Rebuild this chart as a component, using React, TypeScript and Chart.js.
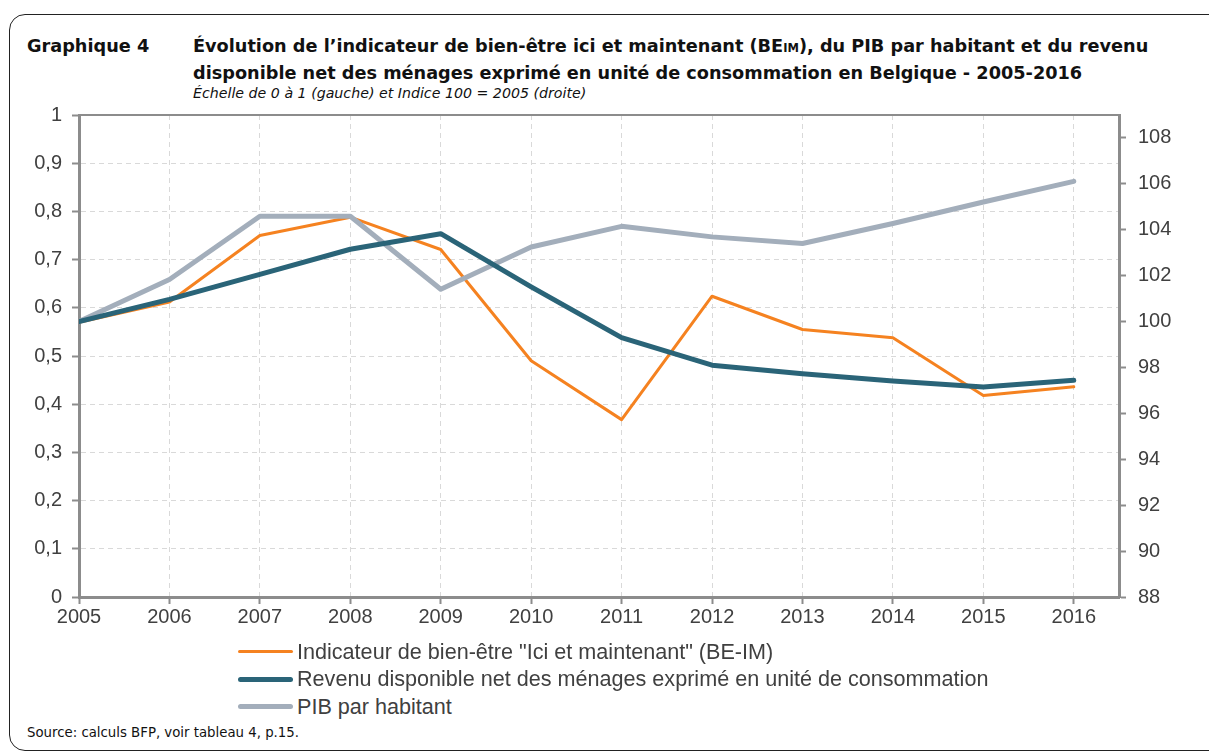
import React, { useEffect, useRef } from "react";
import { Chart, registerables } from "chart.js";

Chart.register(...registerables);

// ---- Data ----
const years = [2005, 2006, 2007, 2008, 2009, 2010, 2011, 2012, 2013, 2014, 2015, 2016];
const beImValues = [0.57, 0.612, 0.75, 0.788, 0.721, 0.49, 0.368, 0.624, 0.555, 0.538, 0.418, 0.436];
const revenuValues = [100, 100.97, 102.06, 103.15, 103.83, 101.51, 99.3, 98.1, 97.73, 97.41, 97.15, 97.44];
const pibValues = [100, 101.83, 104.59, 104.59, 101.41, 103.25, 104.15, 103.69, 103.4, 104.27, 105.21, 106.11];

const seriesLabels = [
  'Indicateur de bien-être "Ici et maintenant" (BE-IM)',
  "Revenu disponible net des ménages exprimé en unité de consommation",
  "PIB par habitant",
];
const seriesColors = ["#F58220", "#2A6478", "#A3AEBB"];
const seriesWidths = [3, 5, 5];

const leftTickValues = [0, 0.1, 0.2, 0.3, 0.4, 0.5, 0.6, 0.7, 0.8, 0.9, 1];
const rightTickValues = [88, 90, 92, 94, 96, 98, 100, 102, 104, 106, 108];
const leftAxisRange = [0, 1];
const rightAxisRange = [88, 109];
const xAxisRange = [2005, 2016.5];

const AXIS_COLOR = "#8C8C8C";
const GRID_COLOR = "#D9D9D9";
const TICK_TEXT = "#404040";

const topBorderPlugin = {
  id: "topBorder",
  afterDraw(chart: any) {
    const { ctx, chartArea } = chart;
    ctx.save();
    ctx.strokeStyle = AXIS_COLOR;
    ctx.lineWidth = 2;
    ctx.beginPath();
    ctx.moveTo(chartArea.left, chartArea.top);
    ctx.lineTo(chartArea.right, chartArea.top);
    ctx.stroke();
    ctx.restore();
  },
};

export default function App() {
  const ref = useRef<HTMLCanvasElement>(null);

  useEffect(() => {
    const prevMargin = document.body.style.margin;
    document.body.style.margin = "0";
    const toPts = (vals: number[]) => years.map((y, i) => ({ x: y, y: vals[i] }));
    const tickFont = { family: "'Liberation Sans', Arial, sans-serif", size: 20 };

    const chart = new Chart(ref.current as HTMLCanvasElement, {
      type: "line",
      data: {
        datasets: [
          {
            label: seriesLabels[0],
            data: toPts(beImValues),
            yAxisID: "y",
            borderColor: seriesColors[0],
            borderWidth: seriesWidths[0],
            pointRadius: 0,
            order: 3,
          },
          {
            label: seriesLabels[1],
            data: toPts(revenuValues),
            yAxisID: "y1",
            borderColor: seriesColors[1],
            borderWidth: seriesWidths[1],
            pointRadius: 0,
            order: 1,
          },
          {
            label: seriesLabels[2],
            data: toPts(pibValues),
            yAxisID: "y1",
            borderColor: seriesColors[2],
            borderWidth: seriesWidths[2],
            pointRadius: 0,
            order: 2,
          },
        ],
      },
      options: {
        responsive: false,
        animation: false,
        devicePixelRatio: 1,
        layout: { padding: { top: 5, left: 0, right: 0, bottom: 0 } },
        elements: { line: { borderCapStyle: "round", borderJoinStyle: "round", tension: 0 } },
        plugins: { legend: { display: false }, tooltip: { enabled: false }, title: { display: false } },
        scales: {
          x: {
            type: "linear",
            min: xAxisRange[0],
            max: xAxisRange[1],
            afterBuildTicks: (s: any) => {
              s.ticks = years.map((v) => ({ value: v }));
            },
            afterFit: (s: any) => {
              s.height = 43;
            },
            ticks: {
              color: TICK_TEXT,
              font: tickFont,
              padding: 1,
              maxRotation: 0,
              autoSkip: false,
              callback: (v: any) => String(v),
            },
            grid: {
              color: GRID_COLOR,
              lineWidth: 1,
              tickColor: AXIS_COLOR,
              tickLength: 7,
              tickWidth: 2,
            },
            border: { color: AXIS_COLOR, width: 3, dash: [5, 4] },
          },
          y: {
            type: "linear",
            position: "left",
            min: leftAxisRange[0],
            max: leftAxisRange[1],
            afterBuildTicks: (s: any) => {
              s.ticks = leftTickValues.map((v) => ({ value: v }));
            },
            afterFit: (s: any) => {
              s.width = 79;
            },
            ticks: {
              color: TICK_TEXT,
              font: tickFont,
              padding: 10,
              callback: (v: any) => String(Number(Number(v).toFixed(1))).replace(".", ","),
            },
            grid: {
              color: GRID_COLOR,
              lineWidth: 1,
              tickColor: AXIS_COLOR,
              tickLength: 7,
              tickWidth: 2,
            },
            border: { color: AXIS_COLOR, width: 3, dash: [5, 4] },
          },
          y1: {
            type: "linear",
            position: "right",
            min: rightAxisRange[0],
            max: rightAxisRange[1],
            afterBuildTicks: (s: any) => {
              s.ticks = rightTickValues.map((v) => ({ value: v }));
            },
            afterFit: (s: any) => {
              s.width = 90;
            },
            ticks: {
              color: TICK_TEXT,
              font: tickFont,
              padding: 12,
            },
            grid: {
              drawOnChartArea: false,
              tickColor: AXIS_COLOR,
              tickLength: 7,
              tickWidth: 2,
            },
            border: { color: AXIS_COLOR, width: 3 },
          },
        },
      },
      plugins: [topBorderPlugin],
    } as any);

    return () => {
      chart.destroy();
      document.body.style.margin = prevMargin;
    };
  }, []);

  const titleFont = "'DejaVu Sans', Verdana, sans-serif";
  const legendFont = "'Liberation Sans', Arial, sans-serif";

  return (
    <div style={{ position: "relative", width: 1209, height: 754, overflow: "hidden", background: "#fff" }}>
      <div
        style={{
          position: "absolute",
          left: 9,
          top: 14,
          width: 1240,
          height: 737,
          border: "1px solid #222",
          borderRadius: 16,
          boxSizing: "border-box",
        }}
      />
      <div style={{ position: "absolute", left: 27, top: 34, fontFamily: titleFont, fontWeight: 700, fontSize: 17.7, lineHeight: "25px", color: "#111", whiteSpace: "nowrap" }}>
        Graphique 4
      </div>
      <div style={{ position: "absolute", left: 193, top: 34, fontFamily: titleFont, fontWeight: 700, fontSize: 17.7, lineHeight: "25px", color: "#111", whiteSpace: "nowrap" }}>
        <div>
          Évolution de l’indicateur de bien-être ici et maintenant (BE<span style={{ fontSize: 11.5 }}>IM</span>), du PIB par habitant et du revenu
        </div>
        <div>disponible net des ménages exprimé en unité de consommation en Belgique - 2005-2016</div>
      </div>
      <div style={{ position: "absolute", left: 193, top: 85, fontFamily: titleFont, fontStyle: "italic", fontSize: 14.2, lineHeight: "16px", color: "#111", whiteSpace: "nowrap" }}>
        Échelle de 0 à 1 (gauche) et Indice 100 = 2005 (droite)
      </div>
      <canvas ref={ref} width={1209} height={549} style={{ position: "absolute", left: 0, top: 91, width: 1209, height: 549 }} />
      {seriesLabels.map((label, i) => (
        <div
          key={label}
          style={{
            position: "absolute",
            left: 238,
            top: 638 + i * 27.5,
            height: 27,
            display: "flex",
            alignItems: "center",
            fontFamily: legendFont,
            fontSize: 21.6,
            color: TICK_TEXT,
            whiteSpace: "nowrap",
          }}
        >
          <span
            style={{
              display: "inline-block",
              width: 55,
              height: seriesWidths[i],
              borderRadius: 3,
              background: seriesColors[i],
              marginRight: 4,
            }}
          />
          <span>{label}</span>
        </div>
      ))}
      <div style={{ position: "absolute", left: 27, top: 724, fontFamily: titleFont, fontSize: 13.3, lineHeight: "18px", color: "#111", whiteSpace: "nowrap" }}>
        Source: calculs BFP, voir tableau 4, p.15.
      </div>
    </div>
  );
}
